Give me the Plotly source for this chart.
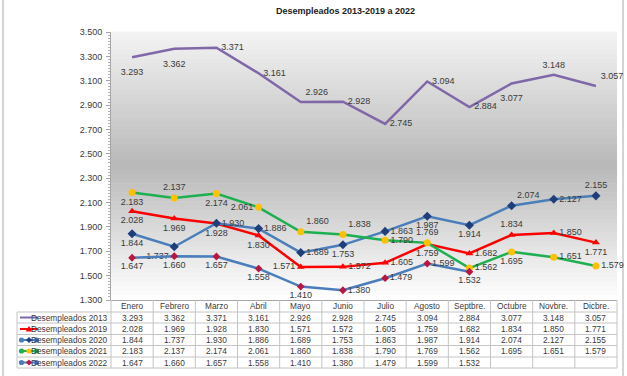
import plotly.graph_objects as go

# ---------------- data ----------------
months = ["Enero", "Febrero", "Marzo", "Abril", "Mayo", "Junio", "Julio",
          "Agosto", "Septbre.", "Octubre", "Novbre.", "Dicbre."]
series_names = ["Desempleados 2013", "Desempleados 2019", "Desempleados 2020",
                "Desempleados 2021", "Desempleados 2022"]
d2013 = [3293, 3362, 3371, 3161, 2926, 2928, 2745, 3094, 2884, 3077, 3148, 3057]
d2019 = [2028, 1969, 1928, 1830, 1571, 1572, 1605, 1759, 1682, 1834, 1850, 1771]
d2020 = [1844, 1737, 1930, 1886, 1689, 1753, 1863, 1987, 1914, 2074, 2127, 2155]
d2021 = [2183, 2137, 2174, 2061, 1860, 1838, 1790, 1769, 1562, 1695, 1651, 1579]
d2022 = [1647, 1660, 1657, 1558, 1410, 1380, 1479, 1599, 1532]
y_ticks = [1300, 1500, 1700, 1900, 2100, 2300, 2500, 2700, 2900, 3100, 3300, 3500]
title = "Desempleados 2013-2019 a 2022"

# ---------------- styles ----------------
FONT = "Liberation Sans, Arial, sans-serif"
TXT = "#3a3a3a"
P = {"R": "middle right", "L": "middle left", "T": "top center", "B": "bottom center",
     "TR": "top right", "BL": "bottom left", "BR": "bottom right"}
pos = {
    0: ["B", "B", "R", "R", "TR", "R", "R", "R", "R", "B", "T", "TR"],
    1: ["B", "B", "B", "B", "L", "R", "R", "B", "R", "T", "R", "B"],
    2: ["B", "BL", "R", "R", "R", "B", "R", "B", "B", "TR", "R", "T"],
    3: ["B", "T", "B", "L", "TR", "TR", "R", "T", "R", "B", "R", "R"],
    4: ["B", "B", "B", "B", "B", "R", "R", "R", "B"],
}
# invisible marker sizes for 2013 (controls label offset only)
ghost_sizes = [16 if p == "B" else 6 for p in pos[0]]
styles = [
    dict(line=dict(color="#7F67A8", width=2.5), mode="lines+markers+text",
         marker=dict(size=ghost_sizes, opacity=0, color="#7F67A8")),
    dict(line=dict(color="#FF0000", width=2.5), mode="lines+markers+text",
         marker=dict(symbol="triangle-up", size=7, color="#FF0000")),
    dict(line=dict(color="#4A7EBB", width=2.5), mode="lines+markers+text",
         marker=dict(symbol="diamond", size=7, color="#1F3F7A")),
    dict(line=dict(color="#1DB050", width=2.5), mode="lines+markers+text",
         marker=dict(symbol="circle", size=7, color="#FFC000")),
    dict(line=dict(color="#4A7EBB", width=2.5), mode="lines+markers+text",
         marker=dict(symbol="diamond", size=6, color="#B8173F")),
]
all_data = [d2013, d2019, d2020, d2021, d2022]

W, H = 627, 376
L, R, T, B = 111, 617, 32, 300   # plot area in pixels
PW, PH = R - L, B - T


def px(xpix):
    return (xpix - L) / PW


def py(ypix):
    return (B - ypix) / PH


fig = go.Figure()
for i, (name, vals, st) in enumerate(zip(series_names, all_data, styles)):
    fig.add_trace(go.Scatter(
        x=months[:len(vals)], y=vals, name=name, mode=st["mode"],
        line=st["line"], marker=st["marker"], texttemplate="%{y:,.0f}",
        textposition=[P[p] for p in pos[i]],
        textfont=dict(family=FONT, size=9, color=TXT),
        showlegend=False, cliponaxis=False, hoverinfo="skip"))

shapes = []
# gradient background of plot area
N = 60
def grad(t):
    top, mid, bot = 244, 184, 255
    if t < 0.5:
        v = top + (mid - top) * (t / 0.5)
    else:
        v = mid + (bot - mid) * ((t - 0.5) / 0.5)
    v = int(round(v))
    return f"rgb({v},{v},{v})"
for k in range(N):
    y0 = 1 - k / N
    y1 = 1 - (k + 1) / N
    shapes.append(dict(type="rect", xref="paper", yref="paper", x0=0, x1=1,
                       y0=y1, y1=y0 + 0.002, fillcolor=grad((k + 0.5) / N),
                       line=dict(width=0), layer="below"))

# outer frame lines
shapes.append(dict(type="line", xref="paper", yref="paper", x0=px(3), x1=px(3),
                   y0=py(0), y1=py(H), line=dict(color="#d4d4d4", width=2),
                   layer="below"))
shapes.append(dict(type="line", xref="paper", yref="paper", x0=px(623), x1=px(623),
                   y0=py(0), y1=py(H), line=dict(color="#d4d4d4", width=2),
                   layer="below"))

# data table grid
GRID = "#c4c4c4"
row_lines = [312, 323, 334.5, 345.5, 357, 368]
for j, yl in enumerate(row_lines):
    shapes.append(dict(type="line", xref="paper", yref="paper",
                       x0=px(17), x1=1, y0=py(yl), y1=py(yl),
                       line=dict(color=GRID, width=1)))
shapes.append(dict(type="line", xref="paper", yref="paper", x0=px(17), x1=px(17),
                   y0=py(312), y1=py(368), line=dict(color=GRID, width=1)))
for k in range(len(months) + 1):
    xx = k / len(months)
    shapes.append(dict(type="line", xref="paper", yref="paper", x0=xx, x1=xx,
                       y0=py(300), y1=py(368), line=dict(color=GRID, width=1)))

annotations = []
header_y = 306
row_y = [317.5, 329, 340, 351, 362.5]
TFS = 8.3
for m in months:
    annotations.append(dict(x=m, xref="x", y=py(header_y), yref="paper", text=m,
                            showarrow=False, xanchor="center", yanchor="middle",
                            font=dict(family=FONT, size=TFS, color=TXT)))
for i, vals in enumerate(all_data):
    for m, v in zip(months, vals):
        annotations.append(dict(x=m, xref="x", y=py(row_y[i]), yref="paper",
                                text=f"{v:,}".replace(",", "."), showarrow=False,
                                xanchor="center", yanchor="middle",
                                font=dict(family=FONT, size=TFS, color=TXT)))
    annotations.append(dict(x=px(109), xref="paper", y=py(row_y[i]), yref="paper",
                            text=series_names[i], showarrow=False,
                            xanchor="right", yanchor="middle",
                            font=dict(family=FONT, size=TFS, color=TXT)))

# legend swatches
sw_x0, sw_x1 = 20, 38
end_cols = [None, None, "#4A7EBB", "#1DB050", "#4A7EBB"]
mid_markers = [None, ("triangle", "#FF0000"), ("diamond", "#1F3F7A"),
               ("circle", "#FFC000"), ("diamond", "#B8173F")]
for i, st in enumerate(styles):
    yy = py(row_y[i])
    shapes.append(dict(type="line", xref="paper", yref="paper", x0=px(sw_x0),
                       x1=px(sw_x1), y0=yy, y1=yy,
                       line=dict(color=st["line"]["color"], width=2)))
    r = 2.6 / PW
    rv = 2.6 / PH
    if end_cols[i]:
        for ex in (sw_x0 + 1.5, sw_x1 - 1.5):
            shapes.append(dict(type="circle", xref="paper", yref="paper",
                               x0=px(ex) - r, x1=px(ex) + r, y0=yy - rv, y1=yy + rv,
                               fillcolor=end_cols[i], line=dict(width=0)))
    if mid_markers[i]:
        sym, col = mid_markers[i]
        cx = px((sw_x0 + sw_x1) / 2)
        if sym == "triangle":
            path = (f"M {cx - 3.2/PW} {yy - 2.6/PH} L {cx + 3.2/PW} {yy - 2.6/PH} "
                    f"L {cx} {yy + 3.2/PH} Z")
        elif sym == "diamond":
            path = (f"M {cx - 3/PW} {yy} L {cx} {yy + 3/PH} L {cx + 3/PW} {yy} "
                    f"L {cx} {yy - 3/PH} Z")
        else:
            path = None
        if path:
            shapes.append(dict(type="path", xref="paper", yref="paper", path=path,
                               fillcolor=col, line=dict(width=0)))
        else:
            shapes.append(dict(type="circle", xref="paper", yref="paper",
                               x0=cx - r, x1=cx + r, y0=yy - rv, y1=yy + rv,
                               fillcolor=col, line=dict(width=0)))

# title
annotations.append(dict(x=px(345), xref="paper", y=py(11), yref="paper",
                        text=f"<b>{title}</b>", showarrow=False,
                        xanchor="center", yanchor="middle",
                        font=dict(family=FONT, size=9, color="#222222")))

fig.update_layout(
    width=W, height=H,
    margin=dict(l=L, r=W - R, t=T, b=H - B, pad=0),
    paper_bgcolor="white", plot_bgcolor="rgba(0,0,0,0)",
    separators=",.",
    shapes=shapes, annotations=annotations,
    showlegend=False, hovermode=False,
)
fig.update_xaxes(type="category", categoryorder="array", categoryarray=months,
                 range=[-0.5, len(months) - 0.5], showticklabels=False,
                 showgrid=False, zeroline=False, showline=True,
                 linecolor="#a6a6a6", linewidth=1, ticks="")
fig.update_yaxes(range=[y_ticks[0], y_ticks[-1]], tickvals=y_ticks,
                 tickformat=",.0f", showgrid=False, zeroline=False,
                 showline=True, linecolor="#a6a6a6", linewidth=1,
                 ticks="outside", ticklen=4, tickcolor="#a6a6a6",
                 minor=dict(dtick=25, ticks="outside", ticklen=2,
                            tickcolor="#b0b0b0"),
                 tickfont=dict(family=FONT, size=9, color=TXT), ticklabelstandoff=2)

fig.write_html("out.html", config={"displayModeBar": False, "staticPlot": True},
               post_script="document.body.style.margin='0';"
                           "document.body.style.overflow='hidden';")
